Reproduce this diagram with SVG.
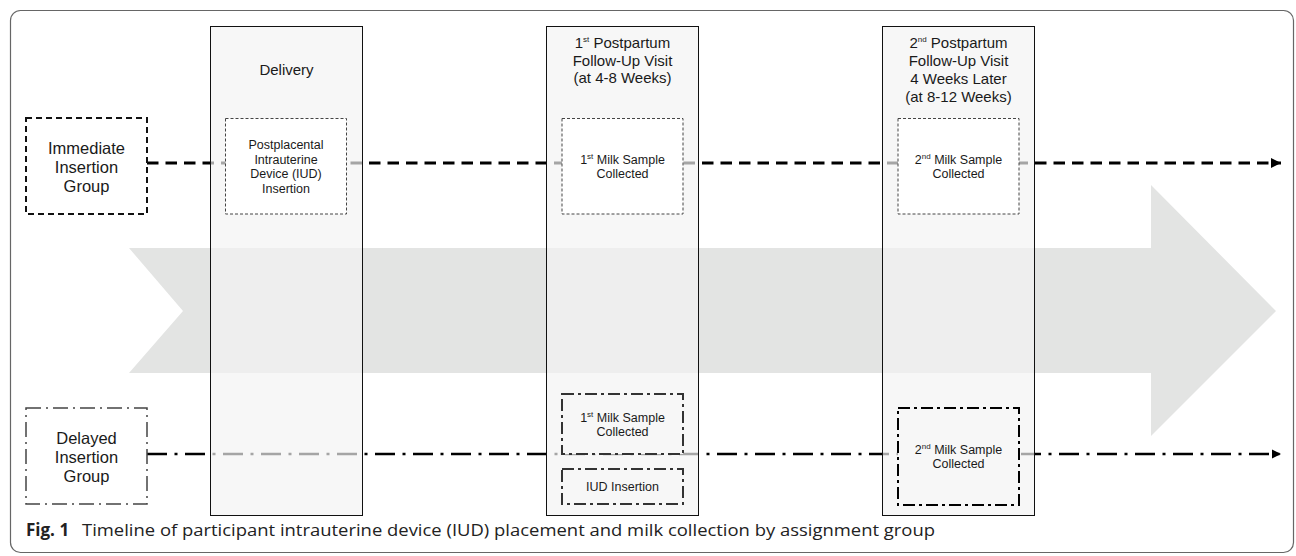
<svg xmlns="http://www.w3.org/2000/svg" width="1296" height="556" viewBox="0 0 1296 556">
<defs>
<style>
.t{font-family:"Liberation Sans",Arial,sans-serif;fill:#1a1a1a;text-anchor:middle}
.hd{font-size:15px}
.grp{font-size:16.5px}
.sm{font-size:12.5px}
.col{fill:#f3f3f3;fill-opacity:0.68;stroke:#111;stroke-width:1}
.dot{fill:#fff;stroke:#444;stroke-width:1;stroke-dasharray:3 2}
.dash{fill:#fff;stroke:#111;stroke-width:2;stroke-dasharray:6 4}
.dd{fill:#fff;stroke:#444;stroke-width:1.5;stroke-dasharray:15 5 2 5}
.dd2{fill:#f7f7f7;stroke:#333;stroke-width:2;stroke-dasharray:12 4 3 4}
.dd3{fill:#f7f7f7;stroke:#000;stroke-width:2;stroke-dasharray:12 4 3 4}
.sup{font-size:8px}
</style>
<marker id="ah" viewBox="0 0 10 10" refX="10" refY="5" markerWidth="3.6" markerHeight="3.6" orient="auto" markerUnits="strokeWidth">
<path d="M0,0 L10,5 L0,10 Z" fill="#000"/>
</marker>
</defs>
<rect x="0" y="0" width="1296" height="556" fill="#fff"/>
<rect id="frame" x="10.5" y="10.5" width="1283" height="542" rx="10" ry="10" fill="#fff" stroke="#666" stroke-width="1.2"/>
<g id="timeline-arrow">
<polygon points="129,248 1151,248 1151,185 1276,311 1151,436 1151,373 129,373 183,311" fill="#e3e4e3"/>
</g>
<g id="connectors">
<line x1="147" y1="163" x2="1281" y2="163" stroke="#000" stroke-width="2.8" stroke-dasharray="11.5 7" marker-end="url(#ah)"/>
<line x1="147" y1="454" x2="1281" y2="454" stroke="#000" stroke-width="2.6" stroke-dasharray="20 7.5 3 7.5" marker-end="url(#ah)"/>
</g>
<g id="delivery">
<rect class="col" x="210.5" y="26.5" width="152" height="489"/>
<text class="t hd" x="286.5" y="75">Delivery</text>
</g>
<g id="visit1">
<rect class="col" x="546.5" y="26.5" width="152" height="489"/>
<text class="t hd" x="622.5" y="47.5">1<tspan class="sup" dy="-6">st</tspan><tspan dy="6"> Postpartum</tspan></text>
<text class="t hd" x="622.5" y="65.5">Follow-Up Visit</text>
<text class="t hd" x="622.5" y="83">(at 4-8 Weeks)</text>
</g>
<g id="visit2">
<rect class="col" x="882.5" y="26.5" width="152" height="489"/>
<text class="t hd" x="958.5" y="47.5">2<tspan class="sup" dy="-6">nd</tspan><tspan dy="6"> Postpartum</tspan></text>
<text class="t hd" x="958.5" y="65.5">Follow-Up Visit</text>
<text class="t hd" x="958.5" y="83.5">4 Weeks Later</text>
<text class="t hd" x="958.5" y="101.5">(at 8-12 Weeks)</text>
</g>
<g id="immediate-group">
<rect class="dash" x="26" y="118" width="121" height="96"/>
<text class="t grp" x="86.5" y="154">Immediate</text>
<text class="t grp" x="86.5" y="173">Insertion</text>
<text class="t grp" x="86.5" y="192">Group</text>
</g>
<g id="delayed-group">
<rect class="dd" x="26" y="408" width="121" height="96"/>
<text class="t grp" x="86.5" y="444">Delayed</text>
<text class="t grp" x="86.5" y="463">Insertion</text>
<text class="t grp" x="86.5" y="482">Group</text>
</g>
<g id="ppiud-insertion">
<rect class="dot" x="225.5" y="118.5" width="121" height="95.5"/>
<text class="t sm" x="286" y="149">Postplacental</text>
<text class="t sm" x="286" y="163.5">Intrauterine</text>
<text class="t sm" x="286" y="178">Device (IUD)</text>
<text class="t sm" x="286" y="192.5">Insertion</text>
</g>
<g id="immediate-milk1">
<rect class="dot" x="562" y="118.5" width="121" height="95.5"/>
<text class="t sm" x="622.5" y="164">1<tspan class="sup" dy="-5">st</tspan><tspan dy="5"> Milk Sample</tspan></text>
<text class="t sm" x="622.5" y="178">Collected</text>
</g>
<g id="immediate-milk2">
<rect class="dot" x="898" y="118.5" width="121" height="95.5"/>
<text class="t sm" x="958.5" y="164">2<tspan class="sup" dy="-5">nd</tspan><tspan dy="5"> Milk Sample</tspan></text>
<text class="t sm" x="958.5" y="178">Collected</text>
</g>
<g id="delayed-milk1">
<rect class="dd2" x="562" y="394" width="121" height="60"/>
<text class="t sm" x="622.5" y="421.5">1<tspan class="sup" dy="-5">st</tspan><tspan dy="5"> Milk Sample</tspan></text>
<text class="t sm" x="622.5" y="435.5">Collected</text>
</g>
<g id="delayed-iud">
<rect class="dd2" x="562" y="469" width="121" height="35"/>
<text class="t sm" x="622.5" y="491">IUD Insertion</text>
</g>
<g id="delayed-milk2">
<rect class="dd3" x="898" y="408" width="121" height="97"/>
<text class="t sm" x="958.5" y="454">2<tspan class="sup" dy="-5">nd</tspan><tspan dy="5"> Milk Sample</tspan></text>
<text class="t sm" x="958.5" y="468">Collected</text>
</g>
<g id="caption">
<text x="26" y="536" style="font-family:'Open Sans','Noto Sans',sans-serif;font-size:17px;fill:#222"><tspan font-weight="bold">Fig. 1</tspan></text>
<text x="82" y="536" textLength="853" lengthAdjust="spacingAndGlyphs" style="font-family:'Open Sans','Noto Sans',sans-serif;font-size:17px;fill:#222">Timeline of participant intrauterine device (IUD) placement and milk collection by assignment group</text>
</g>
</svg>
